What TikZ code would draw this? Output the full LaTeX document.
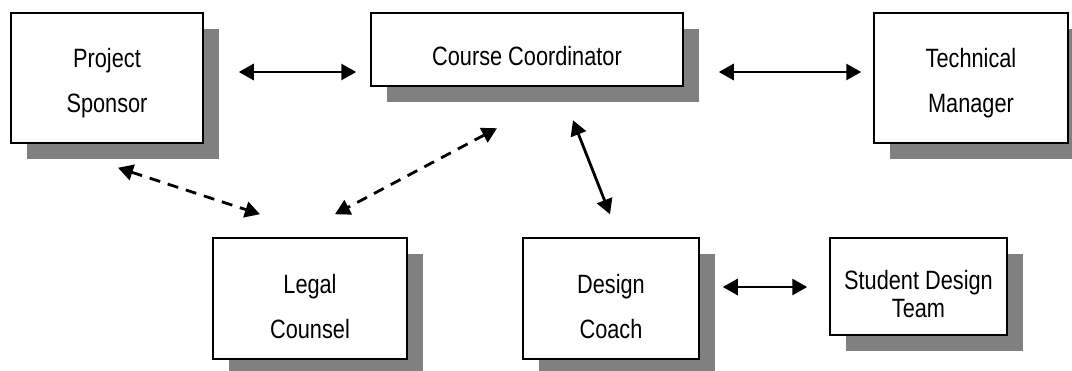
\documentclass[tikz,border=0pt]{standalone}
\usepackage{fontspec}
\setmainfont{Liberation Sans}[FakeStretch=0.82]
\usetikzlibrary{calc}
\usetikzlibrary{arrows.meta}
\usetikzlibrary{shadows}

\begin{document}
\begin{tikzpicture}[x=0.5pt,y=0.5pt,
    role/.style={draw,line width=0.75pt,fill=white,align=center,inner sep=0pt,
        font=\fontsize{13.25}{22.5}\selectfont,
        drop shadow={shadow xshift=8pt,shadow yshift=-8pt,fill=gray,opacity=1}},
    biarrow/.style={line width=1.4pt,{Triangle[length=7.5pt,width=8pt]}-{Triangle[length=7.5pt,width=8pt]}},
    dasharrow/.style={biarrow,dash pattern=on 5.5pt off 4pt}]%
        \useasboundingbox (0,0) rectangle (1072,370);%
        \node[role,minimum width=96pt,minimum height=65pt,text height=37pt] (ps) at (107,292) {Project\\Sponsor};%
        \node[role,minimum width=156pt,minimum height=36.5pt,text height=16pt] (cc) at (527,320.5) {Course Coordinator};%
        \node[role,minimum width=97pt,minimum height=65pt,text height=37pt] (tm) at (971,292) {Technical\\Manager};%
        \node[role,minimum width=97pt,minimum height=60.5pt,text height=40pt] (lc) at (310,71.5) {Legal\\Counsel};%
        \node[role,minimum width=88pt,minimum height=60.5pt,text height=40pt] (dc) at (611,71.5) {Design\\Coach};%
        \node[role,minimum width=88.5pt,minimum height=48.5pt,text height=31.5pt,font=\fontsize{13.25}{14}\selectfont] (sdt) at (918.5,83.5) {Student Design\\Team};%
        \draw[biarrow] ($(ps.east)+(35,6)$) -- ($(cc.west)+(-14,-22.5)$);%
        \draw[biarrow] ($(cc.east)+(35,-22.5)$) -- ($(tm.west)+(-12,6)$);%
        \draw[biarrow] ($(cc.south)+(46,-33.5)$) -- ($(dc.north)+(-1,23)$);%
        \draw[biarrow] ($(dc.east)+(23,11.5)$) -- ($(sdt.west)+(-22,-0.5)$);%
        \draw[dasharrow] ($(ps.south)+(11,-24)$) -- ($(lc.north)+(-50,23)$);%
        \draw[dasharrow] ($(cc.south)+(-30,-41.5)$) -- ($(lc.north)+(25,23)$);%
    \end{tikzpicture}
\end{document}
